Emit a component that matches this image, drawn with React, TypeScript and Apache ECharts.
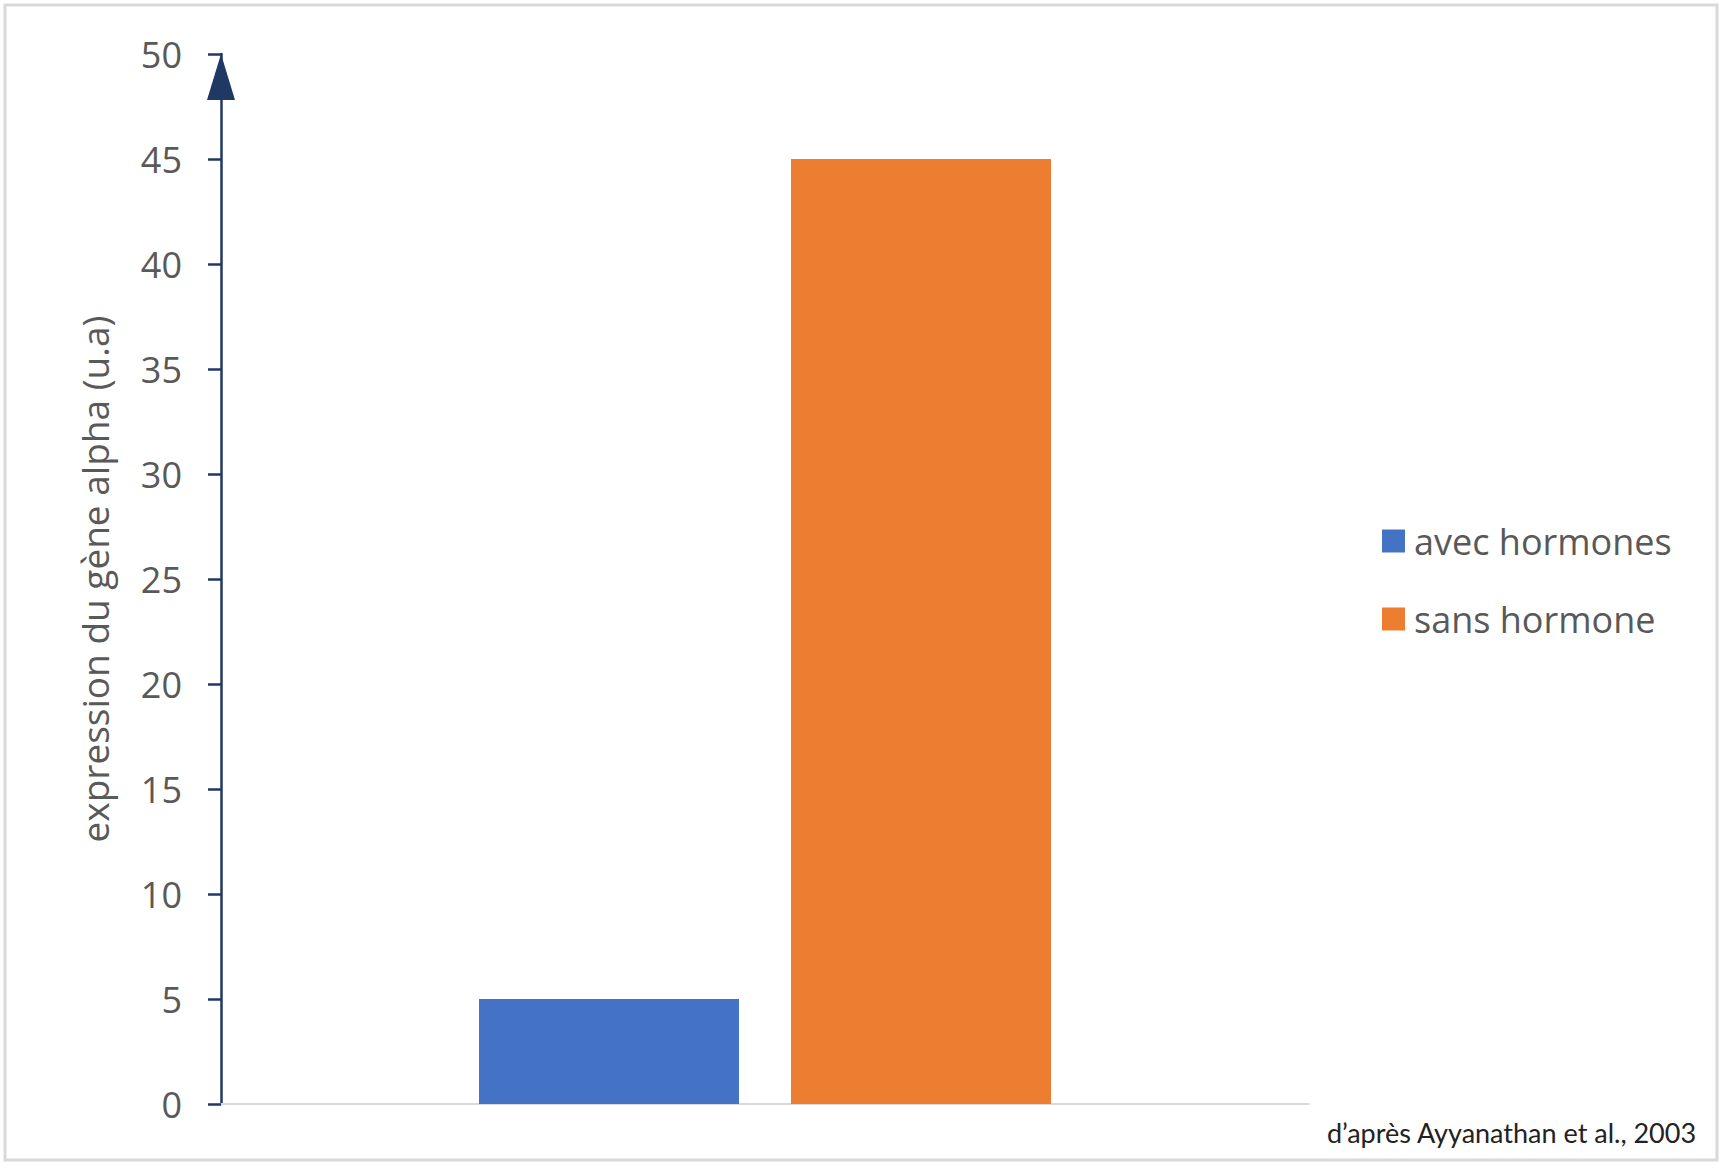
import React, { useEffect, useRef } from "react";
import * as echarts from "echarts";

const categories = [""];
const seriesNames = ["avec hormones", "sans hormone"];
const avecHormones = [5];
const sansHormone = [45];
const yTicks = { min: 0, max: 50, interval: 5 };
const yAxisTitle = "expression du gène alpha (u.a)";
const sourceText = "d’après Ayyanathan et al., 2003";

const FONT = "'Open Sans', 'Noto Sans', sans-serif";
const GREY_TEXT = "#595959";
const NAVY = "#203864";

export default function App() {
  const ref = useRef<HTMLDivElement>(null);
  useEffect(() => {
    if (!ref.current) return;
    const chart = echarts.init(ref.current, null, { renderer: "svg" });
    chart.setOption({
      animation: false,
      backgroundColor: "#ffffff",
      grid: { left: 221, top: 54, bottom: 64, width: 1088, containLabel: false },
      xAxis: {
        type: "category",
        data: categories,
        axisLine: { show: true, lineStyle: { color: "#d9d9d9", width: 2 } },
        axisTick: { show: false },
        axisLabel: { show: false },
        splitLine: { show: false },
      },
      yAxis: {
        type: "value",
        min: yTicks.min,
        max: yTicks.max,
        interval: yTicks.interval,
        name: yAxisTitle,
        nameLocation: "middle",
        nameGap: 108,
        nameRotate: 90,
        nameTextStyle: { fontFamily: FONT, fontSize: 37, color: GREY_TEXT },
        axisLine: {
          show: true,
          lineStyle: { color: NAVY, width: 2.5 },
          symbol: ["none", "triangle"],
          symbolSize: [28, 46],
          symbolOffset: [0, -23],
        },
        axisTick: { show: true, length: 13, lineStyle: { color: NAVY, width: 2.5 } },
        axisLabel: { margin: 39, fontFamily: FONT, fontSize: 36, color: GREY_TEXT },
        splitLine: { show: false },
      },
      legend: {
        orient: "vertical",
        left: 1382,
        top: 521,
        padding: 0,
        itemWidth: 23,
        itemHeight: 23,
        itemGap: 38,
        icon: "rect",
        textStyle: { fontFamily: FONT, fontSize: 36, color: GREY_TEXT, lineHeight: 40, padding: [0, 0, 0, 4] },
        data: seriesNames,
      },
      series: [
        {
          name: seriesNames[0],
          type: "bar",
          data: avecHormones,
          barWidth: 260,
          barGap: "20%",
          itemStyle: { color: "#4472C4" },
        },
        {
          name: seriesNames[1],
          type: "bar",
          data: sansHormone,
          barWidth: 260,
          barGap: "20%",
          itemStyle: { color: "#ED7D31" },
        },
      ],
      graphic: [
        {
          type: "rect",
          shape: { x: 5, y: 5, width: 1712, height: 1155 },
          style: { fill: "none", stroke: "#d9d9d9", lineWidth: 3 },
          silent: true,
          z: -1,
        },
        {
          type: "text",
          right: 26,
          top: 1119,
          style: { text: sourceText, fontFamily: "Lato, sans-serif", fontSize: 27, fill: "#222222" },
        },
      ],
    });
    return () => chart.dispose();
  }, []);
  return (
    <div
      ref={ref}
      style={{ position: "fixed", left: 0, top: 0, width: 1723, height: 1168 }}
    />
  );
}
